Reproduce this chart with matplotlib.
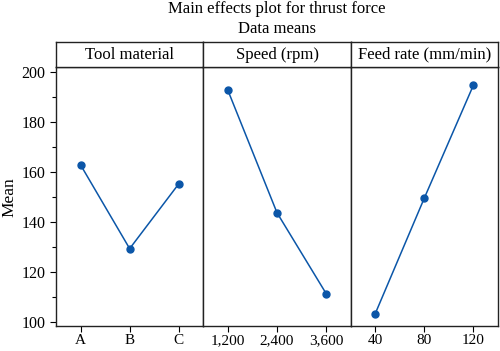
# Main effects plot for thrust force

import matplotlib.pyplot as plt
from matplotlib.ticker import MultipleLocator

plt.rcParams["font.family"] = ["Liberation Serif", "DejaVu Serif"]

# Data
factors = ["Tool material", "Speed (rpm)", "Feed rate (mm/min)"]
levels = [["A", "B", "C"], ["1,200", "2,400", "3,600"], ["40", "80", "120"]]
means = [[162.9, 129.3, 155.3], [192.8, 143.7, 111.3], [103.2, 149.6, 194.9]]

color = "#0b56a8"

fig = plt.figure(figsize=(5, 3.51), dpi=100)
fig.text(0.554, 0.975, "Main effects plot for thrust force", ha="center", va="center", fontsize=12)
fig.text(0.554, 0.916, "Data means", ha="center", va="center", fontsize=12)

left, right = 0.112, 0.996
bottom, top = 0.070, 0.808
head_top = 0.880
w = (right - left) / 3

axes = []
for i in range(3):
    ax = fig.add_axes([left + i * w, bottom, w, top - bottom])
    ax.plot(range(3), means[i], color=color, marker="o", markersize=5, linewidth=1.1)
    ax.set_xlim(-0.5, 2.5)
    ax.set_ylim(98.1, 202)
    ax.set_xticks(range(3))
    ax.set_xticklabels(levels[i])
    ax.tick_params(axis="x", labelsize=11, length=4, width=0.8, pad=1.5)
    ax.yaxis.set_major_locator(MultipleLocator(20))
    ax.yaxis.set_minor_locator(MultipleLocator(10))
    if i == 0:
        ax.tick_params(axis="y", which="major", labelsize=11.5, length=4, width=0.8)
        ax.tick_params(axis="y", which="minor", length=3, width=0.8)
        ax.set_ylabel("Mean", fontsize=12.5, labelpad=3)
    else:
        ax.tick_params(axis="y", which="both", left=False, labelleft=False)
    for s in ax.spines.values():
        s.set_linewidth(1.0)
        s.set_color("#222222")
    axes.append(ax)

    hd = fig.add_axes([left + i * w, top, w, head_top - top])
    hd.set_xticks([])
    hd.set_yticks([])
    for s in hd.spines.values():
        s.set_linewidth(1.0)
        s.set_color("#222222")
    hd.text(0.5, 0.5, factors[i], ha="center", va="center", fontsize=12, transform=hd.transAxes)

fig.savefig("out.png", dpi=100)
